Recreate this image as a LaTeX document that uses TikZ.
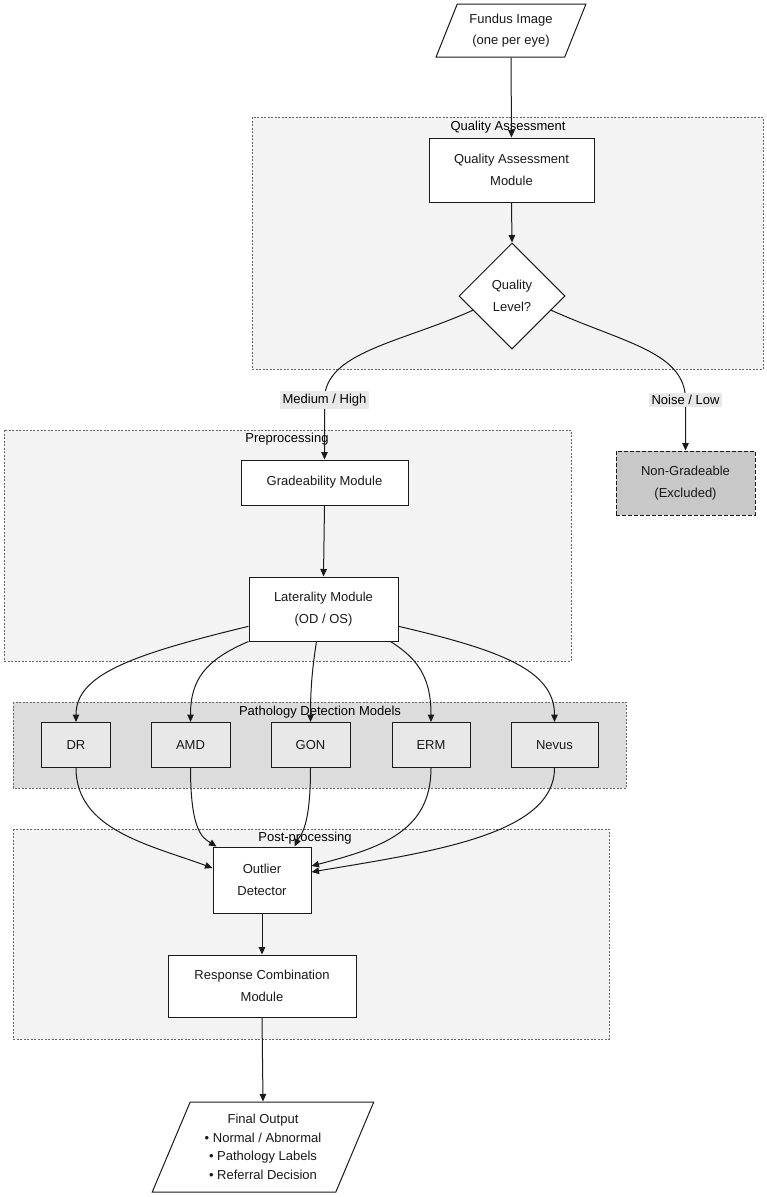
\documentclass[tikz,border=0pt]{standalone}
\usepackage{fontspec}
\setmainfont{Liberation Sans}
\usetikzlibrary{shapes.geometric,arrows.meta,calc}
\definecolor{clfill}{HTML}{F3F3F3}
\definecolor{pathfill}{HTML}{DCDCDC}
\definecolor{boxgray}{HTML}{E8E8E8}
\definecolor{ngfill}{HTML}{C8C8C8}
\definecolor{lblfill}{HTML}{E8E8E8}
\definecolor{ln}{HTML}{1A1A1A}
\begin{document}
\begin{tikzpicture}[x=1pt,y=-1pt,
  font=\fontsize{13}{21.5}\selectfont,
  cluster/.style={draw=black!60, dash pattern=on 2pt off 1.5pt, line width=0.7pt, fill=clfill},
  proc/.style={draw=ln, line width=1pt, fill=white, align=center, inner sep=0pt, text=black!90},
  para/.style={proc, trapezium, trapezium stretches=true, trapezium left angle=#1, trapezium right angle=180-#1},
  arr/.style={draw=ln, line width=1pt, -{Triangle[length=7.5pt,width=6.5pt]}},
  edgelbl/.style={fill=lblfill, inner sep=2.5pt},
  cltitle/.style={inner sep=0pt}
]
\useasboundingbox (0,0) rectangle (767,1197);

% clusters
\path[cluster] (252,117) rectangle (763,369);
\node[cltitle] (qat) at (508,127) {Quality Assessment};
\path[cluster] (4,430) rectangle (571,661);
\node[cltitle] (prt) at (287,439) {Preprocessing};
\path[cluster, fill=pathfill] (13,702) rectangle (626,788);
\node[cltitle] (pdt) at (320,712) {Pathology Detection Models};
\path[cluster] (13,829) rectangle (609,1039);
\node[cltitle] (ppt) at (305,838) {Post-processing};

% nodes
\node[para=64, minimum width=150pt, minimum height=53pt] (fundus) at (511,30.5) {Fundus Image\\(one per eye)};
\node[proc, minimum width=165pt, minimum height=64pt] (qam) at (511.5,170) {Quality Assessment\\Module};
\node[proc, diamond, aspect=1, minimum width=106pt, minimum height=106pt] (ql) at (512,296) {Quality\\Level?};
\node[proc, minimum width=167pt, minimum height=45pt] (grad) at (324.5,482.5) {Gradeability Module};
\node[proc, minimum width=149pt, minimum height=64pt] (lat) at (323.5,609) {Laterality Module\\(OD / OS)};
\node[proc, fill=ngfill, dash pattern=on 4pt off 2pt, minimum width=139pt, minimum height=64pt] (nong) at (685.5,483) {Non-Gradeable\\(Excluded)};

\node[proc, fill=boxgray, minimum width=69pt, minimum height=45pt] (dr) at (76,745) {DR};
\node[proc, fill=boxgray, minimum width=79pt, minimum height=45pt] (amd) at (190.5,745) {AMD};
\node[proc, fill=boxgray, minimum width=79pt, minimum height=45pt] (gon) at (310.5,745) {GON};
\node[proc, fill=boxgray, minimum width=78pt, minimum height=45pt] (erm) at (431,745) {ERM};
\node[proc, fill=boxgray, minimum width=87pt, minimum height=45pt] (nev) at (554.5,745) {Nevus};

\node[proc, minimum width=98pt, minimum height=66pt] (out) at (262,880) {Outlier\\Detector};
\node[proc, minimum width=188pt, minimum height=62pt] (resp) at (262,986) {Response Combination\\Module};
\node[para=65, minimum width=222pt, minimum height=90pt, font=\fontsize{13}{18.5}\selectfont] (final) at (263,1147) {Final Output\\{\textbullet} Normal / Abnormal\\{\textbullet} Pathology Labels\\{\textbullet} Referral Decision};

% connectors
\draw[arr] (fundus.south) -- (qam.north);
\draw[arr] (qam.south) -- (ql.north);
\coordinate (mlc) at (324.5,400);
\coordinate (nlc) at (685.5,400);
\draw[arr] (ql.200) .. controls (400,343) and (324.5,352) .. (mlc) -- (grad.north);
\draw[arr] (ql.340) .. controls (624,343) and (685.5,352) .. (nlc) -- (nong.north);
\node[edgelbl] (ml) at (mlc) {Medium / High};
\node[edgelbl] (nl) at (nlc) {Noise / Low};
\draw[arr] (grad.south) -- (lat.north);

\draw[arr] (lat.193) .. controls (130,655) and (76,675) .. (dr.north);
\draw[arr] (lat.south west) .. controls (205,660) and (190.5,680) .. (amd.north);
\draw[arr] ($(lat.south)+(-7,0)$) .. controls (312,670) and (310.5,690) .. (gon.north);
\draw[arr] ($(lat.south east)+(-8,0)$) .. controls (420,660) and (431,680) .. (erm.north);
\draw[arr] (lat.347) .. controls (500,650) and (554.5,670) .. (nev.north);

\draw[arr] (dr.south) .. controls (76,830) and (150,845) .. ($(out.west)+(0,-12)$);
\draw[arr] (amd.south) .. controls (190.5,832) and (203,838) .. ($(out.north west)+(4,0)$);
\draw[arr] (gon.south) .. controls (310.5,830) and (300,835) .. ($(out.north east)+(-17,0)$);
\draw[arr] (erm.south) .. controls (431,832) and (380,848) .. ($(out.east)+(0,-14)$);
\draw[arr] (nev.south) .. controls (554.5,835) and (430,852) .. ($(out.east)+(0,-8)$);

\draw[arr] (out.south) -- (resp.north);
\draw[arr] (resp.south) -- (final.north);
\end{tikzpicture}
\end{document}
